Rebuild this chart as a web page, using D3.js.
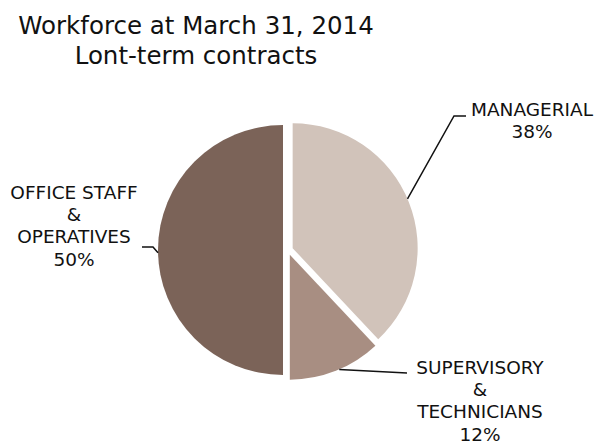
<!DOCTYPE html>
<meta charset="utf-8">
<html lang="en">
<head>
<title>Workforce pie</title>
<script src="https://d3js.org/d3.v7.min.js"></script>
<style>
  body { margin: 0; background: #fff; }
  text { font-family: "DejaVu Sans", Verdana, sans-serif; fill: #111; }
</style>
</head>
<body>
<svg width="597" height="442"></svg>
<script>

// chart data
var categories = ["MANAGERIAL", "SUPERVISORY & TECHNICIANS", "OFFICE STAFF & OPERATIVES"]
var shares = [38, 12, 50]
var colors = ["#d1c3ba", "#a88e82", "#7b6358"]

// label lines as they are broken in the picture
var labelLines = [
  ["MANAGERIAL", "38%"],
  ["SUPERVISORY", "&", "TECHNICIANS", "12%"],
  ["OFFICE STAFF", "&", "OPERATIVES", "50%"]
]

var svg = d3.select('svg')

var cx = 288, cy = 250, radius = 125, explode = 5

svg.append('text').attr('x', 196).attr('y', 34).attr('text-anchor', 'middle')
  .attr('font-size', 24.5).text('Workforce at March 31, 2014')
svg.append('text').attr('x', 196).attr('y', 64).attr('text-anchor', 'middle')
  .attr('font-size', 24.5).text('Lont-term contracts')

var pie = d3.pie().sort(null).value(function (d) { return d })
var arcs = pie(shares)
var arc = d3.arc().innerRadius(0).outerRadius(radius)

function offset(a) {
  var mid = (a.startAngle + a.endAngle) / 2
  return [Math.sin(mid) * explode, -Math.cos(mid) * explode]
}

var g = svg.append('g').attr('transform', 'translate(' + cx + ',' + cy + ')')

g.selectAll('path.slice')
  .data(arcs)
  .enter().append('path')
    .attr('class', 'slice')
    .attr('d', arc)
    .attr('fill', function (d, i) { return colors[i] })
    .attr('transform', function (d) { var o = offset(d); return 'translate(' + o[0] + ',' + o[1] + ')' })

// leader lines: start on the arc edge at a given angle, then elbow to label
var leaders = [
  { angle: 1.165, elbow: [166, -134], end: [178, -134] },
  { angle: 2.735, elbow: [119, 123], end: [119, 123] },
  { angle: 4.69, elbow: [-135, -3], end: [-146, -3] }
]

function edgePoint(i, angle) {
  var o = offset(arcs[i])
  return [o[0] + Math.sin(angle) * radius, o[1] - Math.cos(angle) * radius]
}

g.selectAll('path.leader')
  .data(leaders)
  .enter().append('path')
    .attr('class', 'leader')
    .attr('fill', 'none')
    .attr('stroke', '#111')
    .attr('stroke-width', 1.5)
    .attr('d', function (d, i) {
      var p = edgePoint(i, d.angle)
      return d3.line()([p, d.elbow, d.end])
    })

var labelPos = [
  { x: 532, y: 116 },
  { x: 480, y: 374 },
  { x: 74, y: 199 }
]

labelLines.forEach(function (lines, i) {
  var t = svg.append('text')
    .attr('text-anchor', 'middle')
    .attr('font-size', 18.5)
  lines.forEach(function (s, j) {
    t.append('tspan').attr('x', labelPos[i].x).attr('y', labelPos[i].y + j * 22.2).text(s)
  })
})
</script>
</body>
</html>
